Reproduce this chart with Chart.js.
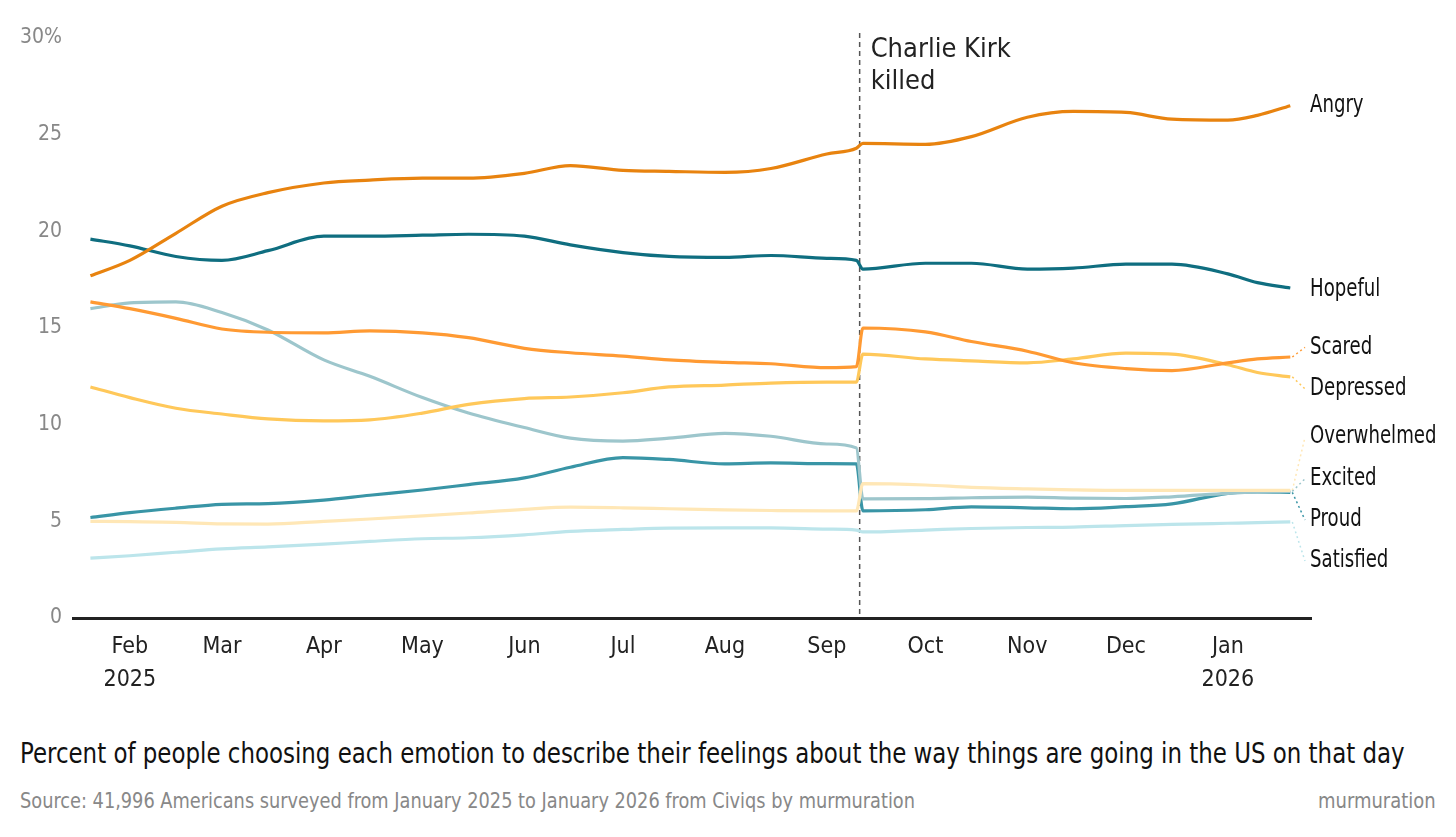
<!DOCTYPE html>
<html>
<head>
<meta charset="utf-8">
<script src="https://cdn.jsdelivr.net/npm/chart.js@4.4.1/dist/chart.umd.min.js"></script>
<style>
body { margin: 0; background: #fff; font-family: 'Liberation Sans Narrow', 'DejaVu Sans Condensed', 'Noto Sans', sans-serif; }
#wrap { position: relative; width: 1456px; height: 837px; overflow: hidden; }
#chart { position: absolute; left: 0; top: 0; }
.title { position: absolute; left: 20px; top: 736px; font-size: 29px; color: #111; white-space: nowrap; transform-origin: left center; }
.source { position: absolute; left: 20px; top: 789px; font-size: 21px; color: #888; white-space: nowrap; transform-origin: left center; }
.brand { position: absolute; right: 20px; top: 789px; font-size: 21px; color: #888; white-space: nowrap; transform-origin: right center; }
</style>
</head>
<body>
<div id="wrap">
<canvas id="chart" width="1456" height="700"></canvas>
<div class="title" data-w="1385">Percent of people choosing each emotion to describe their feelings about the way things are going in the US on that day</div>
<div class="source" data-w="895">Source: 41,996 Americans surveyed from January 2025 to January 2026 from Civiqs by murmuration</div>
<div class="brand" data-w="118">murmuration</div>
</div>
<script>
var FONT = "'Liberation Sans Narrow', 'DejaVu Sans Condensed', 'Noto Sans', sans-serif";

// survey dates (two points around Sep 10 to show the jump)
var dates = ["2025-01-20", "2025-02-01", "2025-02-15", "2025-03-01", "2025-03-15", "2025-04-01",
	"2025-04-15", "2025-05-01", "2025-05-15", "2025-06-01", "2025-06-15", "2025-07-01",
	"2025-07-15", "2025-08-01", "2025-08-15", "2025-09-01", "2025-09-10", "2025-09-12",
	"2025-10-01", "2025-10-15", "2025-11-01", "2025-11-15", "2025-12-01", "2025-12-15",
	"2026-01-01", "2026-01-10", "2026-01-20"];

var angry = [17.7, 18.5, 19.9, 21.3, 22.0, 22.5, 22.65, 22.75, 22.75, 23.0, 23.4, 23.15, 23.1, 23.05,
	23.25, 24.0, 24.3, 24.55, 24.5, 24.9, 25.9, 26.2, 26.15, 25.8, 25.75, 26.0, 26.5];
var hopeful = [19.6, 19.25, 18.7, 18.5, 19.0, 19.75, 19.75, 19.8, 19.85, 19.75, 19.3, 18.9, 18.7, 18.65,
	18.75, 18.6, 18.5, 18.05, 18.35, 18.35, 18.05, 18.1, 18.3, 18.3, 17.8, 17.35, 17.07];
var scared = [16.35, 16.0, 15.5, 14.95, 14.78, 14.75, 14.85, 14.75, 14.5, 13.95, 13.72, 13.55, 13.35, 13.22,
	13.15, 12.95, 13.0, 15.0, 14.8, 14.3, 13.8, 13.2, 12.9, 12.8, 13.2, 13.4, 13.5];
var depressed = [11.95, 11.4, 10.85, 10.55, 10.3, 10.2, 10.25, 10.6, 11.05, 11.35, 11.43, 11.65, 11.95, 12.05,
	12.15, 12.2, 12.2, 13.65, 13.4, 13.3, 13.2, 13.4, 13.7, 13.65, 13.1, 12.7, 12.47];
var overwhelmed = [5.0, 4.98, 4.95, 4.87, 4.86, 5.0, 5.12, 5.28, 5.43, 5.62, 5.73, 5.7, 5.65, 5.59,
	5.56, 5.54, 5.54, 6.95, 6.88, 6.76, 6.68, 6.63, 6.6, 6.6, 6.6, 6.6, 6.6];
var excited = [16.0, 16.3, 16.35, 15.8, 14.9, 13.35, 12.5, 11.4, 10.6, 9.85, 9.3, 9.15, 9.3, 9.55,
	9.4, 9.0, 8.8, 6.16, 6.17, 6.22, 6.25, 6.2, 6.18, 6.27, 6.45, 6.52, 6.55];
var proud = [5.2, 5.45, 5.68, 5.88, 5.92, 6.1, 6.35, 6.62, 6.9, 7.25, 7.8, 8.3, 8.2, 7.97,
	8.02, 7.98, 7.97, 5.54, 5.6, 5.75, 5.7, 5.65, 5.76, 5.9, 6.45, 6.52, 6.5];
var satisfied = [3.1, 3.22, 3.4, 3.58, 3.68, 3.82, 3.96, 4.1, 4.15, 4.3, 4.48, 4.58, 4.65, 4.66,
	4.66, 4.6, 4.55, 4.45, 4.55, 4.63, 4.68, 4.7, 4.78, 4.84, 4.9, 4.93, 4.97];

var monthDates = ["2025-02-01", "2025-03-01", "2025-04-01", "2025-05-01", "2025-06-01", "2025-07-01",
	"2025-08-01", "2025-09-01", "2025-10-01", "2025-11-01", "2025-12-01", "2026-01-01"];
var monthLabels = [["Feb", "2025"], "Mar", "Apr", "May", "Jun", "Jul", "Aug", "Sep", "Oct", "Nov", "Dec", ["Jan", "2026"]];
var yTicks = [0, 5, 10, 15, 20, 25, 30];
var eventDate = "2025-09-11";
var eventText = ["Charlie Kirk", "killed"];

function dayNum(s) {
	var p = s.split("-");
	return (Date.UTC(+p[0], +p[1] - 1, +p[2]) - Date.UTC(2025, 0, 1)) / 86400000;
}

var series = [
	{ name: "Angry", values: angry, color: "#E8830F", labelAt: 26.5 },
	{ name: "Hopeful", values: hopeful, color: "#0F6E80", labelAt: 17.0 },
	{ name: "Scared", values: scared, color: "#FF9A33", labelAt: 14.0 },
	{ name: "Depressed", values: depressed, color: "#FFC85A", labelAt: 11.85 },
	{ name: "Overwhelmed", values: overwhelmed, color: "#FFE7B6", labelAt: 9.35 },
	{ name: "Excited", values: excited, color: "#9DC6CC", labelAt: 7.2 },
	{ name: "Proud", values: proud, color: "#3995A6", labelAt: 5.07 },
	{ name: "Satisfied", values: satisfied, color: "#BCE5EB", labelAt: 2.95 }
];

var endLabels = {
	id: "endLabels",
	afterDatasetsDraw: function (chart) {
		var ctx = chart.ctx, y = chart.scales.y;
		chart.data.datasets.forEach(function (ds, i) {
			var pts = chart.getDatasetMeta(i).data;
			var last = pts[pts.length - 1];
			var ly = y.getPixelForValue(series[i].labelAt);
			ctx.save();
			if (Math.abs(ly - last.y) > 4) {
				ctx.strokeStyle = ds.borderColor;
				ctx.lineWidth = 1.5;
				ctx.setLineDash([2, 3]);
				ctx.beginPath();
				ctx.moveTo(last.x + 2, last.y);
				ctx.lineTo(1305, ly);
				ctx.stroke();
				ctx.setLineDash([]);
			}
			ctx.font = "24px " + FONT;
			ctx.textBaseline = "middle";
			ctx.fillStyle = "#111";
			ctx.translate(1310, ly);
			ctx.scale(0.84, 1);
			ctx.fillText(ds.label, 0, 0);
			ctx.restore();
		});
	}
};

var eventLine = {
	id: "eventLine",
	beforeDatasetsDraw: function (chart) {
		var ctx = chart.ctx, area = chart.chartArea;
		var x = chart.scales.x.getPixelForValue(dayNum(eventDate));
		ctx.save();
		ctx.strokeStyle = "#555";
		ctx.lineWidth = 1.5;
		ctx.setLineDash([5, 4]);
		ctx.beginPath();
		ctx.moveTo(x, 33);
		ctx.lineTo(x, area.bottom);
		ctx.stroke();
		ctx.setLineDash([]);
		ctx.fillStyle = "#222";
		ctx.font = "27px " + FONT;
		ctx.textBaseline = "middle";
		eventText.forEach(function (t, k) {
			ctx.fillText(t, x + 11, 50 + k * 32);
		});
		ctx.restore();
	}
};

var xs = dates.map(dayNum);
var monthDays = monthDates.map(dayNum);

new Chart(document.getElementById("chart").getContext("2d"), {
	type: "line",
	data: {
		datasets: series.map(function (s) {
			return {
				label: s.name,
				data: s.values.map(function (v, i) { return { x: xs[i], y: v }; }),
				borderColor: s.color,
				backgroundColor: s.color,
				borderWidth: 3.2,
				pointRadius: 0,
				cubicInterpolationMode: "monotone",
				fill: false
			};
		})
	},
	options: {
		responsive: false,
		animation: false,
		layout: { padding: { top: 38, right: 145, bottom: 0, left: 0 } },
		plugins: { legend: { display: false }, tooltip: { enabled: false } },
		scales: {
			x: {
				type: "linear",
				min: 13.7,
				max: 390.3,
				grid: { display: false, drawTicks: false },
				border: { display: true, color: "#222", width: 3 },
				afterBuildTicks: function (scale) {
					scale.ticks = monthDays.map(function (d) { return { value: d }; });
				},
				afterFit: function (scale) { scale.height = 82; },
				ticks: {
					autoSkip: false,
					maxRotation: 0,
					padding: 12,
					color: "#222",
					font: { family: FONT, size: 23, lineHeight: 1.45 },
					callback: function (v, i) { return monthLabels[i]; }
				}
			},
			y: {
				min: 0,
				max: 30,
				grid: { display: false, drawTicks: false },
				border: { display: false },
				afterBuildTicks: function (scale) {
					scale.ticks = yTicks.map(function (v) { return { value: v }; });
				},
				afterFit: function (scale) { scale.width = 73; },
				ticks: {
					padding: 11,
					color: "#888",
					font: { family: FONT, size: 21 },
					callback: function (v) { return v === 30 ? "30%" : v; }
				}
			}
		}
	},
	plugins: [eventLine, endLabels]
});

// squeeze footer texts to the widths of the original
document.querySelectorAll("[data-w]").forEach(function (el) {
	var k = (+el.getAttribute("data-w")) / el.scrollWidth;
	el.style.transform = "scaleX(" + k + ")";
});
</script>
</body>
</html>
